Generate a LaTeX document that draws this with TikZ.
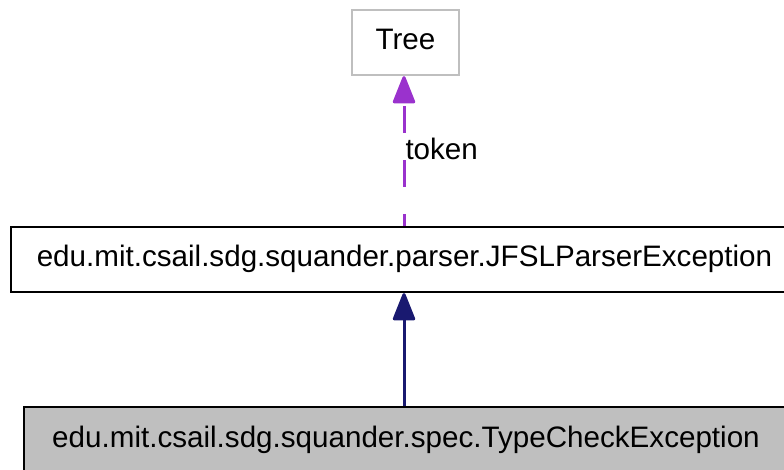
\documentclass[tikz,border=0pt]{standalone}
\usepackage{fontspec}
\setmainfont{Liberation Sans}
\usetikzlibrary{arrows.meta}
\definecolor{boxgray}{HTML}{BFBFBF}
\definecolor{edgepurple}{HTML}{9A32CD}
\definecolor{edgenavy}{HTML}{191970}
\tikzset{
  cls/.style={rectangle, draw=black, line width=2.2pt, inner sep=0pt,
    minimum height=65pt, text height=21pt, text depth=6pt,
    font=\fontsize{29.6}{35}\selectfont},
  ext/.style={cls, draw=boxgray},
  cur/.style={cls, fill=boxgray},
  inheritedge/.style={draw=edgenavy, line width=3pt,
    -{Triangle[length=30pt,width=23pt,round]}},
  usageedge/.style={draw=edgepurple, line width=3pt,
    dash pattern=on 27pt off 27pt, dash phase=15pt,
    -{Triangle[length=30pt,width=23pt,round]}},
  elabel/.style={font=\fontsize{29.6}{35}\selectfont, inner sep=0pt, text=black}
}
\begin{document}
\begin{tikzpicture}[x=1pt,y=-1pt]
\useasboundingbox (0,0) rectangle (784,470);
\node[ext, minimum width=107pt] (tree) at (405.5,42.5) {Tree};
\node[cls, minimum width=787pt] (jfsl) at (404.5,259.5) {edu.mit.csail.sdg.squander.parser.JFSLParserException};
\node[cur, minimum width=764pt] (tce) at (406,439.5) {edu.mit.csail.sdg.squander.spec.TypeCheckException};
\draw[inheritedge] (tce.north -| 404,0) -- (jfsl.south -| 404,0);
\draw[usageedge] (jfsl.north -| 404,0) -- (tree.south -| 404,0)
  node[elabel, pos=0.441, anchor=base west] (tok) {token};
\end{tikzpicture}
\end{document}
